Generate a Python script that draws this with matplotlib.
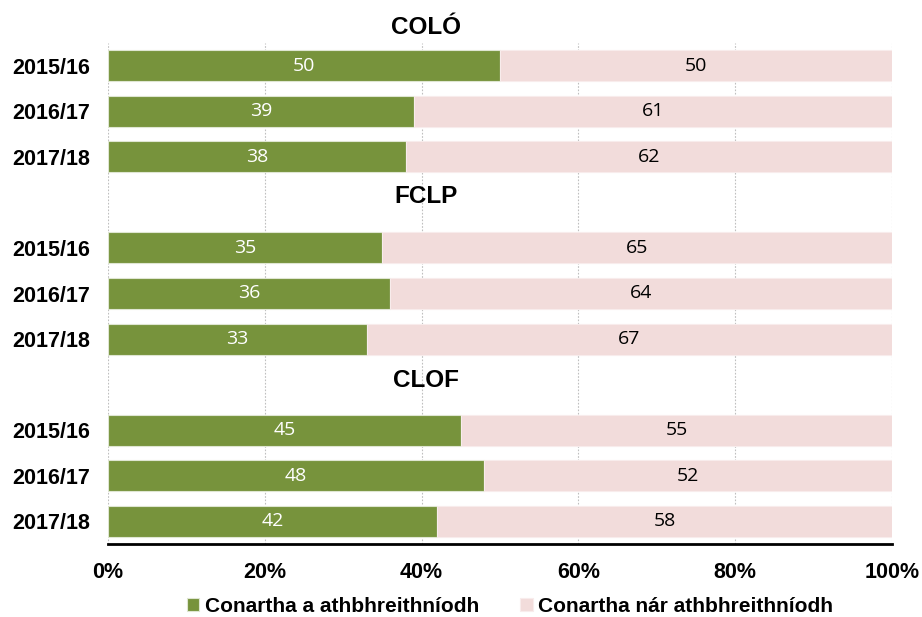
import matplotlib.pyplot as plt
import numpy as np

# data
groups = ["COLÓ", "FCLP", "CLOF"]
years = ["2015/16", "2016/17", "2017/18"]
reviewed = [50, 39, 38, 35, 36, 33, 45, 48, 42]
not_reviewed = [50, 61, 62, 65, 64, 67, 55, 52, 58]
series_names = ["Conartha a athbhreithníodh", "Conartha nár athbhreithníodh"]

green = "#77933C"
pink = "#F2DCDB"

fig = plt.figure(figsize=(9.22, 6.17), dpi=100)
ax = fig.add_axes([108 / 922, 1 - 544 / 617, 784 / 922, 501 / 617])

# each group takes a header slot plus 3 bar slots
pos = []
for g in range(len(groups)):
    for i in range(len(years)):
        pos.append(g * 4 + 1 + i)
pos = np.array(pos)
labels = years * len(groups)

b1 = ax.barh(pos, reviewed, height=0.68, color=green, edgecolor="#dfe6d2",
             linewidth=0.8, label=series_names[0], zorder=2)
b2 = ax.barh(pos, not_reviewed, left=reviewed, height=0.68, color=pink,
             edgecolor="#f8ecec", linewidth=0.8, label=series_names[1], zorder=2)

ax.bar_label(b1, label_type="center", color="white", fontsize=14, family="Open Sans")
ax.bar_label(b2, label_type="center", color="black", fontsize=14, family="Open Sans")

# group headers
header_y = [0.17, 3.88, 7.9]
for g, name in enumerate(groups):
    ax.text(40.6, header_y[g], name, ha="center", va="center", fontsize=17.5,
            fontweight="bold", family="Liberation Sans", clip_on=False)

ax.set_ylim(11.5, 0.5)
ax.set_xlim(0, 100)
ax.set_yticks(pos)
ax.set_yticklabels(labels, fontsize=15.5, fontweight="bold", family="Liberation Sans")
ax.set_xticks(range(0, 101, 20))
ax.set_xticklabels([f"{v}%" for v in range(0, 101, 20)], fontsize=15.5,
                   fontweight="bold", family="Liberation Sans")
ax.tick_params(length=0, pad=13)
ax.tick_params(axis="y", pad=13)

ax.grid(axis="x", linestyle=(0, (1.5, 1.5)), color="#bfbfbf", linewidth=0.8, zorder=0)
ax.set_axisbelow(True)
for s in ["top", "right", "left"]:
    ax.spines[s].set_visible(False)
ax.spines["bottom"].set_linewidth(2)
ax.spines["bottom"].set_color("black")

leg = fig.legend(handles=[b1, b2], loc="center", bbox_to_anchor=(510 / 922, 1 - 606 / 617),
                 ncol=2, frameon=False, handlelength=0.6, handleheight=0.6,
                 handletextpad=0.25, columnspacing=2.0,
                 prop={"family": "Liberation Sans", "weight": "bold", "size": 15})

fig.savefig("out.png", dpi=100)
